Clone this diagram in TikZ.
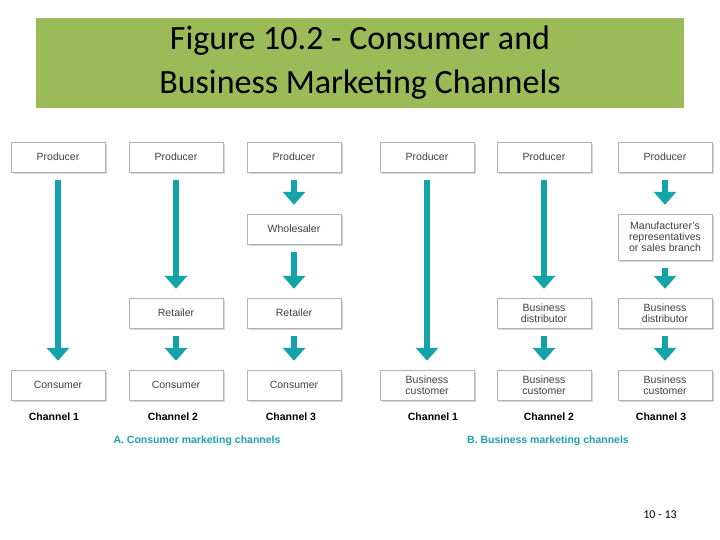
\documentclass[tikz,border=0pt]{standalone}
\usepackage{fontspec}
\setmainfont{Liberation Sans}
\newfontfamily\titlefont{Carlito}
\usetikzlibrary{arrows.meta,shadows}
\definecolor{tgreen}{HTML}{9BBB59}
\definecolor{teal}{HTML}{14A3A8}
\definecolor{blab}{HTML}{1F9FB0}
\begin{document}
\begin{tikzpicture}[x=1pt,y=-1pt,
  box/.style={draw=gray!60,fill=white,minimum width=94pt,minimum height=30pt,inner sep=1pt,align=center,font=\fontsize{10.5}{11}\selectfont\color{black!75},drop shadow={shadow xshift=2pt,shadow yshift=-2pt,opacity=0.35}},
  arr/.style={draw=teal,line width=6pt,-{Triangle[width=22pt,length=13pt]},shorten <=8pt,shorten >=9pt},
  ch/.style={font=\bfseries\fontsize{10.5}{11}\selectfont},
  sec/.style={font=\bfseries\fontsize{10.5}{11}\selectfont,text=blab}]
\useasboundingbox (0,0) rectangle (720,540);
\fill[tgreen] (36,18) rectangle (684,108);
\node[align=center,font=\titlefont\fontsize{34}{44}\selectfont] (title) at (360,63) {Figure 10.2 - Consumer and\\Business Marketing Channels};
% consumer
\node[box] (p1) at (58,157) {Producer};
\node[box] (c1) at (58,385) {Consumer};
\node[box] (p2) at (176,157) {Producer};
\node[box] (r2) at (176,313) {Retailer};
\node[box] (c2) at (176,385) {Consumer};
\node[box] (p3) at (294,157) {Producer};
\node[box] (w3) at (294,229) {Wholesaler};
\node[box] (r3) at (294,313) {Retailer};
\node[box] (c3) at (294,385) {Consumer};
% business
\node[box] (p4) at (427,157) {Producer};
\node[box] (b4) at (427,385) {Business\\customer};
\node[box] (p5) at (544,157) {Producer};
\node[box] (d5) at (544,313) {Business\\distributor};
\node[box] (b5) at (544,385) {Business\\customer};
\node[box] (p6) at (665,157) {Producer};
\node[box,minimum height=46pt] (m6) at (665,237) {Manufacturer's\\representatives\\or sales branch};
\node[box] (d6) at (665,313) {Business\\distributor};
\node[box] (b6) at (665,385) {Business\\customer};
\draw[arr] (p1) -- (c1);
\draw[arr] (p2) -- (r2);
\draw[arr] (r2) -- (c2);
\draw[arr] (p3) -- (w3);
\draw[arr] (w3) -- (r3);
\draw[arr] (r3) -- (c3);
\draw[arr] (p4) -- (b4);
\draw[arr] (p5) -- (d5);
\draw[arr] (d5) -- (b5);
\draw[arr] (p6) -- (m6);
\draw[arr] (m6) -- (d6);
\draw[arr] (d6) -- (b6);
\node[ch] (ch1) at (54,417) {Channel 1};
\node[ch] (ch2) at (173,417) {Channel 2};
\node[ch] (ch3) at (291,417) {Channel 3};
\node[ch] (ch4) at (433,417) {Channel 1};
\node[ch] (ch5) at (549,417) {Channel 2};
\node[ch] (ch6) at (661,417) {Channel 3};
\node[sec] (sa) at (197,441) {A. Consumer marketing channels};
\node[sec] (sb) at (548,441) {B. Business marketing channels};
\node[font=\titlefont\fontsize{12}{13}\selectfont] (pg) at (660,515) {10 - 13};
\end{tikzpicture}
\end{document}
